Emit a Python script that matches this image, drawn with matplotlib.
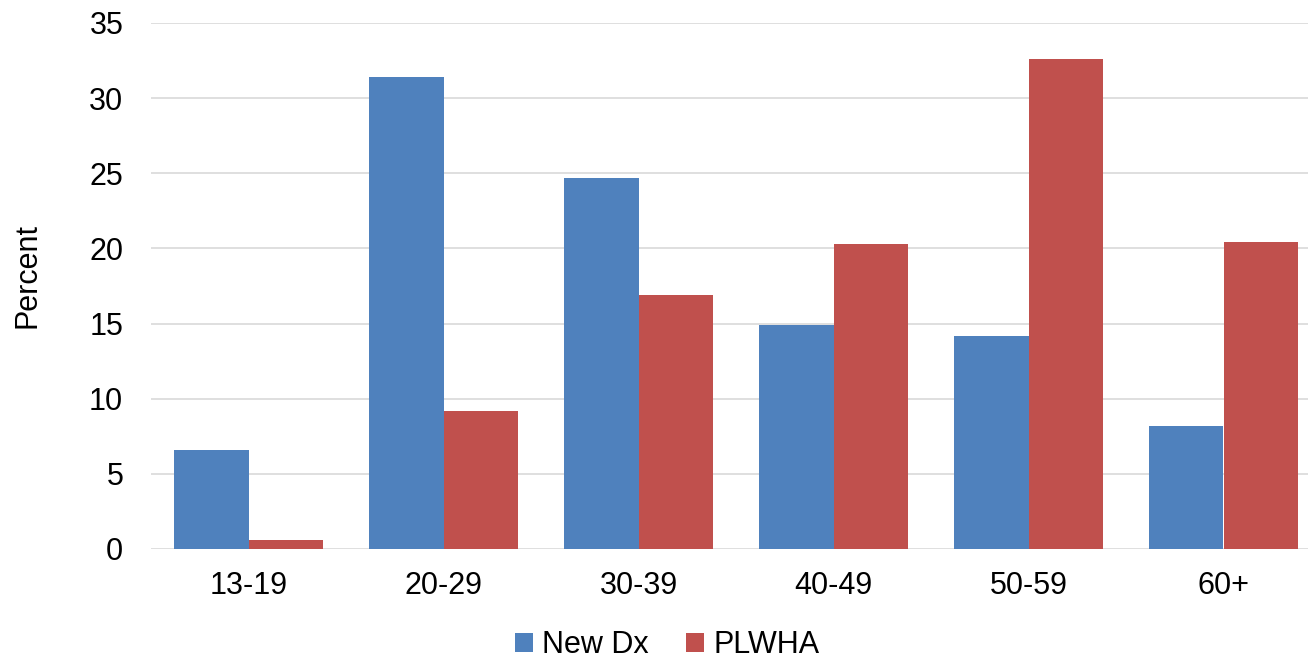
import matplotlib.pyplot as plt
import numpy as np

plt.rcParams['font.family'] = ['Liberation Sans', 'DejaVu Sans']

categories = ["13-19", "20-29", "30-39", "40-49", "50-59", "60+"]
new_dx = [6.6, 31.4, 24.7, 14.9, 14.2, 8.2]
plwha = [0.6, 9.2, 16.9, 20.3, 32.6, 20.4]

fig = plt.figure(figsize=(13.08, 6.61), dpi=100)
ax = fig.add_axes([151 / 1308, 112 / 661, 1170 / 1308, 526 / 661])

x = np.arange(len(categories))
w = 0.38
ax.bar(x - w / 2, new_dx, w, color="#4F81BD", label="New Dx", zorder=3)
ax.bar(x + w / 2, plwha, w, color="#C0504D", label="PLWHA", zorder=3)

ax.set_xlim(-0.5, len(categories) - 0.5)
ax.set_ylim(0, 35)
ax.set_yticks(range(0, 36, 5))
ax.set_xticks(x)
ax.set_xticklabels(categories)
ax.tick_params(axis="both", length=0, labelsize=22)
ax.tick_params(axis="y", pad=20)
ax.tick_params(axis="x", pad=16)
ax.grid(axis="y", color="#D9D9D9", linewidth=1.2, zorder=0)
ax.set_axisbelow(True)
for s in ax.spines.values():
    s.set_visible(False)

fig.text(28 / 1308, 1 - 275 / 661, "Percent", rotation=90, fontsize=22,
         ha="center", va="center")

fig.legend(loc="center", bbox_to_anchor=(667 / 1308, 1 - 645 / 661), ncol=2,
           frameon=False, fontsize=22, handlelength=0.6, handleheight=0.6,
           handletextpad=0.3, columnspacing=1.2, borderpad=0)

plt.savefig("out.png", dpi=100)
